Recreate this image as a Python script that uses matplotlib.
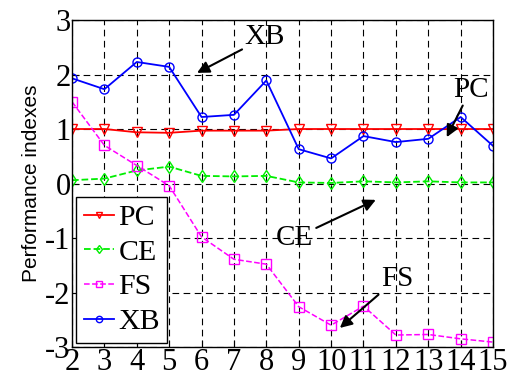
import matplotlib
matplotlib.use("Agg")
import matplotlib.pyplot as plt

clusters = [2, 3, 4, 5, 6, 7, 8, 9, 10, 11, 12, 13, 14, 15]
pc = [1.00, 1.00, 0.94, 0.93, 0.97, 0.97, 0.97, 1.00, 1.00, 1.00, 1.00, 1.00, 1.00, 1.00]
ce = [0.06, 0.09, 0.24, 0.31, 0.14, 0.13, 0.14, 0.02, 0.01, 0.04, 0.02, 0.04, 0.02, 0.02]
fs = [1.50, 0.70, 0.33, -0.04, -0.98, -1.39, -1.48, -2.26, -2.60, -2.25, -2.78, -2.77, -2.85, -2.91]
xb = [1.93, 1.73, 2.23, 2.14, 1.22, 1.26, 1.89, 0.63, 0.46, 0.87, 0.76, 0.82, 1.22, 0.69]
yticks = [-3, -2, -1, 0, 1, 2, 3]

serif = ["Liberation Serif", "DejaVu Serif"]

fig = plt.figure(figsize=(5.12, 3.81), dpi=100)
ax = fig.add_axes([0.1406, 0.0892, 0.8224, 0.8583])

ms = 6.5
ax.plot(clusters, pc, color="red", ls="-", lw=1.3, marker="v", ms=ms, mfc="none", mew=1.0, label="PC")
ax.plot(clusters, ce, color="#00ee00", ls="--", lw=1.3, marker="d", ms=ms, mfc="none", mew=1.0, label="CE")
ax.plot(clusters, fs, color="magenta", ls="--", lw=1.1, marker="s", ms=ms, mfc="none", mew=1.0, label="FS")
ax.plot(clusters, xb, color="blue", ls="-", lw=1.3, marker="o", ms=ms, mfc="none", mew=1.0, label="XB")

ax.set_xlim(2, 15)
ax.set_ylim(-3, 3)
ax.set_xticks(clusters)
ax.set_yticks(yticks)
ax.set_xticklabels([str(c) for c in clusters], family=serif, fontsize=22)
ax.set_yticklabels([str(t) for t in yticks], family=serif, fontsize=22)
ax.tick_params(axis="x", direction="in", length=5, width=0.8, pad=1)
ax.tick_params(axis="y", direction="in", length=5, width=0.8, pad=1)
ax.grid(True, color="black", ls=(0, (6, 4)), lw=0.8)
for s in ax.spines.values():
    s.set_linewidth(1.0)

ax.set_ylabel("Performance indexes", family=["Liberation Sans", "DejaVu Sans"], fontsize=15, labelpad=3)

arrow = dict(arrowstyle="-|>", color="black", lw=1.5, mutation_scale=18, shrinkA=0, shrinkB=0)
ax.annotate("XB", xy=(5.86, 2.03), xytext=(7.96, 2.68), ha="center", va="center",
            family=serif, fontsize=21, arrowprops=arrow)
ax.annotate("PC", xy=(13.57, 0.85), xytext=(14.31, 1.72), ha="center", va="center",
            family=serif, fontsize=21, arrowprops=arrow)
ax.annotate("CE", xy=(11.38, -0.30), xytext=(8.88, -1.0), ha="center", va="center",
            family=serif, fontsize=21, arrowprops=arrow)
ax.annotate("FS", xy=(10.27, -2.65), xytext=(12.03, -1.75), ha="center", va="center",
            family=serif, fontsize=21, arrowprops=arrow)

leg = ax.legend(loc="lower left", prop={"family": serif, "size": 21.5}, frameon=True, fancybox=False,
                edgecolor="black", framealpha=1, markerscale=0.7, handlelength=1.0,
                handletextpad=0.15, borderpad=0.25, labelspacing=0.26, borderaxespad=0.15)
leg.get_frame().set_linewidth(1.0)

fig.savefig("out.png", dpi=100)
